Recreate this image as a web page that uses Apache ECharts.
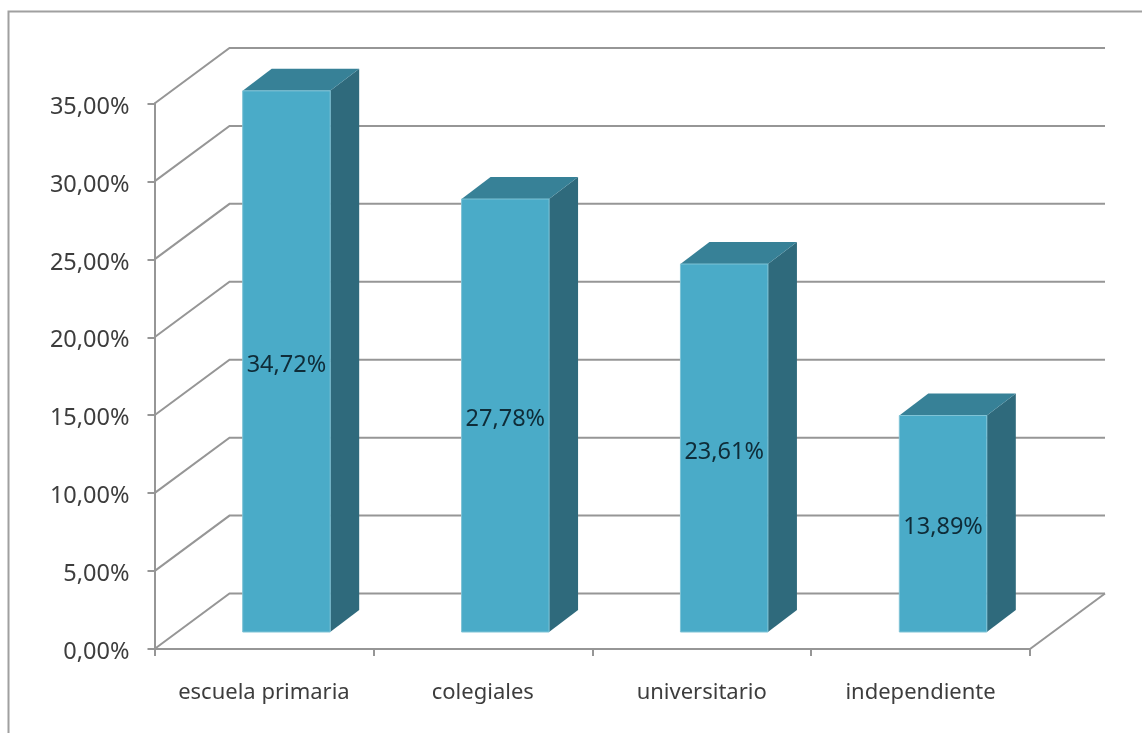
<!DOCTYPE html>
<html><head><meta charset="utf-8">
<style>html,body{margin:0;padding:0;background:#fff}#c{width:1142px;height:733px}</style>
<script src="https://cdn.jsdelivr.net/npm/echarts@6/dist/echarts.min.js"></script>
</head><body><div id="c"></div>
<script>
const categories = ['escuela primaria','colegiales','universitario','independiente'];
const values = [34.72,27.78,23.61,13.89];
const gridTicks = [0,5,10,15,20,25,30,35];

const comma = (v) => v.toFixed(2).replace('.',',') + '%';
const WALL_DX = 75, WALL_DY = -55.5;
const BAR_SHIFT_X = 22.5, BAR_SHIFT_Y = -17, BAR_W = 87.5, DEPTH_X = 29, DEPTH_Y = -22;
const LINE = '#969696', TXT = '#3d3d3d';
const FONT = '"Noto Sans", sans-serif';

const chart = echarts.init(document.getElementById('c'), null, {renderer:'canvas'});
chart.setOption({
  animation:false,
  backgroundColor:'#ffffff',
  graphic:[{type:'polyline',silent:true,z:-1,
    shape:{points:[[8.5,733],[8.5,11.5],[1142,11.5]]},
    style:{stroke:'#a0a0a0',lineWidth:2,fill:null}}],
  grid:{left:154.5,right:112,top:103.5,bottom:84},
  xAxis:{type:'category',data:categories,
    axisLine:{lineStyle:{color:LINE,width:2}},
    axisTick:{show:true,length:7,interval:0,alignWithLabel:false,lineStyle:{color:LINE,width:2}},
    axisLabel:{color:TXT,fontFamily:FONT,fontSize:22,margin:33,interval:0,hideOverlap:false},
    splitLine:{show:false}},
  yAxis:{type:'value',min:0,max:35,interval:5,
    axisLine:{show:true,lineStyle:{color:LINE,width:2}},
    axisTick:{show:true,length:7,lineStyle:{color:LINE,width:2}},
    axisLabel:{color:TXT,fontFamily:FONT,fontSize:23.5,margin:25,verticalAlign:'top',lineHeight:7,formatter:comma},
    splitLine:{show:false}},
  series:[
    {type:'custom',z:1,silent:true,
     data:gridTicks.map(v=>[0,v]),
     renderItem(params,api){
       const cs = params.coordSys;
       const y = api.coord([0,api.value(1)])[1];
       const x0 = cs.x, x1 = cs.x+cs.width;
       const s = {stroke:LINE,lineWidth:2,fill:null};
       const kids = [{type:'polyline',shape:{points:[[x0,y],[x0+WALL_DX,y+WALL_DY],[x1+WALL_DX,y+WALL_DY]]},style:s}];
       if(api.value(1)===0) kids.push({type:'line',shape:{x1:x1,y1:y,x2:x1+WALL_DX,y2:y+WALL_DY},style:s});
       return {type:'group',children:kids};
     }},
    {type:'custom',z:2,silent:true,
     data:values.map((v,i)=>[i,v]),
     encode:{x:0,y:1},
     renderItem(params,api){
       const i = api.value(0), v = api.value(1);
       const c = api.coord([i,v]), b = api.coord([i,0]);
       const l = c[0]-BAR_W/2+BAR_SHIFT_X, r = l+BAR_W;
       const t = c[1]+BAR_SHIFT_Y, bot = b[1]+BAR_SHIFT_Y;
       const edge = {lineWidth:1,stroke:'#7fc3d6'};
       return {type:'group',children:[
         {type:'polygon',shape:{points:[[r,t],[r+DEPTH_X,t+DEPTH_Y],[r+DEPTH_X,bot+DEPTH_Y],[r,bot]]},style:{fill:'#2f6a7c'}},
         {type:'polygon',shape:{points:[[l,t],[l+DEPTH_X,t+DEPTH_Y],[r+DEPTH_X,t+DEPTH_Y],[r,t]]},style:{fill:'#378197'}},
         {type:'rect',shape:{x:l,y:t,width:BAR_W,height:bot-t},style:{fill:'#4aabc8',...edge}},
         {type:'text',style:{x:(l+r)/2,y:(t+bot)/2+4,text:comma(v),align:'center',verticalAlign:'middle',
           font:'23.5px '+FONT,fill:'#0f2c38'}}
       ]};
     }}
  ]
});
</script></body></html>
